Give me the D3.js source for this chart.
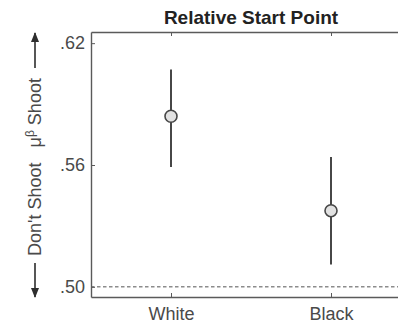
<!DOCTYPE html>
<html>
<head>
<meta charset="utf-8">
<script src="https://cdn.jsdelivr.net/npm/d3@7"></script>
<style>
    body { margin: 0; background: #fff; }
    svg { display: block; font-family: "Liberation Sans", Arial, sans-serif; }
</style>
</head>
<body>
<div id="chart"></div>
<script>
// data
var groups = [ 'White', 'Black' ];
var means = [ 0.584, 0.5375 ];
var lowers = [ 0.559, 0.511 ];
var uppers = [ 0.607, 0.564 ];
var yTicks = [ 0.50, 0.56, 0.62 ];
var baseline = 0.50;

var width = 398,
    height = 326,
    margin = { top: 32, left: 91, right: -13, bottom: 29 },
    inkDark = '#474747',
    inkText = '#4a4a4a';

var svg = d3.select( '#chart' )
    .append( 'svg' )
    .attr( 'width', width )
    .attr( 'height', height );

var x = d3.scalePoint()
    .domain( groups )
    .range( [ margin.left, width - margin.right ] )
    .padding( 0.5 );

var y = d3.scaleLinear()
    .domain( [ 0.495, 0.6255 ] )
    .range( [ height - margin.bottom, margin.top ] );

var fmt = function ( d ) { return d3.format( '.2f' )( d ).replace( /^0/, '' ); };

// dashed reference line
svg.append( 'line' )
    .attr( 'x1', margin.left )
    .attr( 'x2', width - margin.right )
    .attr( 'y1', y( baseline ) )
    .attr( 'y2', y( baseline ) )
    .attr( 'stroke', '#8c8c8c' )
    .attr( 'stroke-width', 1.5 )
    .attr( 'stroke-dasharray', '3.5,2.5' );

// axes
var yAxis = svg.append( 'g' )
    .attr( 'transform', 'translate(' + margin.left + ',0)' )
    .call( d3.axisLeft( y ).tickValues( yTicks ).tickFormat( fmt ).tickSize( -4 ).tickSizeOuter( 0 ).tickPadding( 6 ) );

var xAxis = svg.append( 'g' )
    .attr( 'transform', 'translate(0,' + ( height - margin.bottom ) + ')' )
    .call( d3.axisBottom( x ).tickSize( -4 ).tickSizeOuter( 0 ).tickPadding( 10 ) );

var topAxis = svg.append( 'g' )
    .attr( 'transform', 'translate(0,' + margin.top + ')' )
    .call( d3.axisTop( x ).tickSize( -4 ).tickSizeOuter( 0 ).tickFormat( '' ) );

[ yAxis, xAxis, topAxis ].forEach( function ( g ) {
    g.select( '.domain' ).attr( 'stroke', '#5a5a5a' ).attr( 'stroke-width', 1.4 );
    g.selectAll( '.tick line' ).attr( 'stroke', '#5a5a5a' ).attr( 'stroke-width', 1 );
    g.selectAll( 'text' )
        .attr( 'fill', inkText )
        .style( 'font-size', '18px' )
        .style( 'font-family', '"Liberation Sans", Arial, sans-serif' );
} );

// error bars
var pts = groups.map( function ( g, i ) {
    return { group: g, mean: means[ i ], lo: lowers[ i ], hi: uppers[ i ] };
} );

svg.selectAll( 'line.err' )
    .data( pts )
    .enter()
    .append( 'line' )
    .attr( 'class', 'err' )
    .attr( 'x1', function ( d ) { return x( d.group ); } )
    .attr( 'x2', function ( d ) { return x( d.group ); } )
    .attr( 'y1', function ( d ) { return y( d.lo ); } )
    .attr( 'y2', function ( d ) { return y( d.hi ); } )
    .attr( 'stroke', inkDark )
    .attr( 'stroke-width', 2 );

svg.selectAll( 'circle.pt' )
    .data( pts )
    .enter()
    .append( 'circle' )
    .attr( 'class', 'pt' )
    .attr( 'cx', function ( d ) { return x( d.group ); } )
    .attr( 'cy', function ( d ) { return y( d.mean ); } )
    .attr( 'r', 6 )
    .attr( 'fill', '#e2e2e2' )
    .attr( 'stroke', inkDark )
    .attr( 'stroke-width', 1.6 );

// title
svg.append( 'text' )
    .attr( 'x', ( margin.left + width - margin.right ) / 2 )
    .attr( 'y', 24 )
    .attr( 'text-anchor', 'middle' )
    .attr( 'fill', '#222' )
    .style( 'font-size', '19px' )
    .style( 'font-weight', 'bold' )
    .text( 'Relative Start Point' );

// y label with arrows
var labelX = 35,
    labelMid = 167;

svg.append( 'defs' )
    .append( 'marker' )
    .attr( 'id', 'arrowHead' )
    .attr( 'viewBox', '0 0 10 10' )
    .attr( 'refX', 9 )
    .attr( 'refY', 5 )
    .attr( 'markerWidth', 10 )
    .attr( 'markerHeight', 8 )
    .attr( 'markerUnits', 'userSpaceOnUse' )
    .attr( 'orient', 'auto' )
    .attr( 'preserveAspectRatio', 'none' )
    .append( 'path' )
    .attr( 'd', 'M0,0 L10,5 L0,10 Z' )
    .attr( 'fill', '#2e2e2e' );

svg.append( 'line' )
    .attr( 'x1', labelX ).attr( 'x2', labelX )
    .attr( 'y1', 68 ).attr( 'y2', 33 )
    .attr( 'stroke', '#444' )
    .attr( 'stroke-width', 1.8 )
    .attr( 'marker-end', 'url(#arrowHead)' );

svg.append( 'line' )
    .attr( 'x1', labelX ).attr( 'x2', labelX )
    .attr( 'y1', 263 ).attr( 'y2', 297 )
    .attr( 'stroke', '#444' )
    .attr( 'stroke-width', 1.8 )
    .attr( 'marker-end', 'url(#arrowHead)' );

var yLabel = svg.append( 'text' )
    .attr( 'transform', 'translate(' + ( labelX + 6 ) + ',' + labelMid + ') rotate(-90)' )
    .attr( 'text-anchor', 'middle' )
    .attr( 'fill', inkText )
    .style( 'font-size', '18px' )
    .style( 'white-space', 'pre' );

yLabel.append( 'tspan' ).text( 'Don\'t Shoot   \u03bc' );
yLabel.append( 'tspan' ).attr( 'dy', -7 ).style( 'font-size', '12px' ).text( '\u03b2' );
yLabel.append( 'tspan' ).attr( 'dy', 7 ).text( ' Shoot' );
</script>
</body>
</html>
